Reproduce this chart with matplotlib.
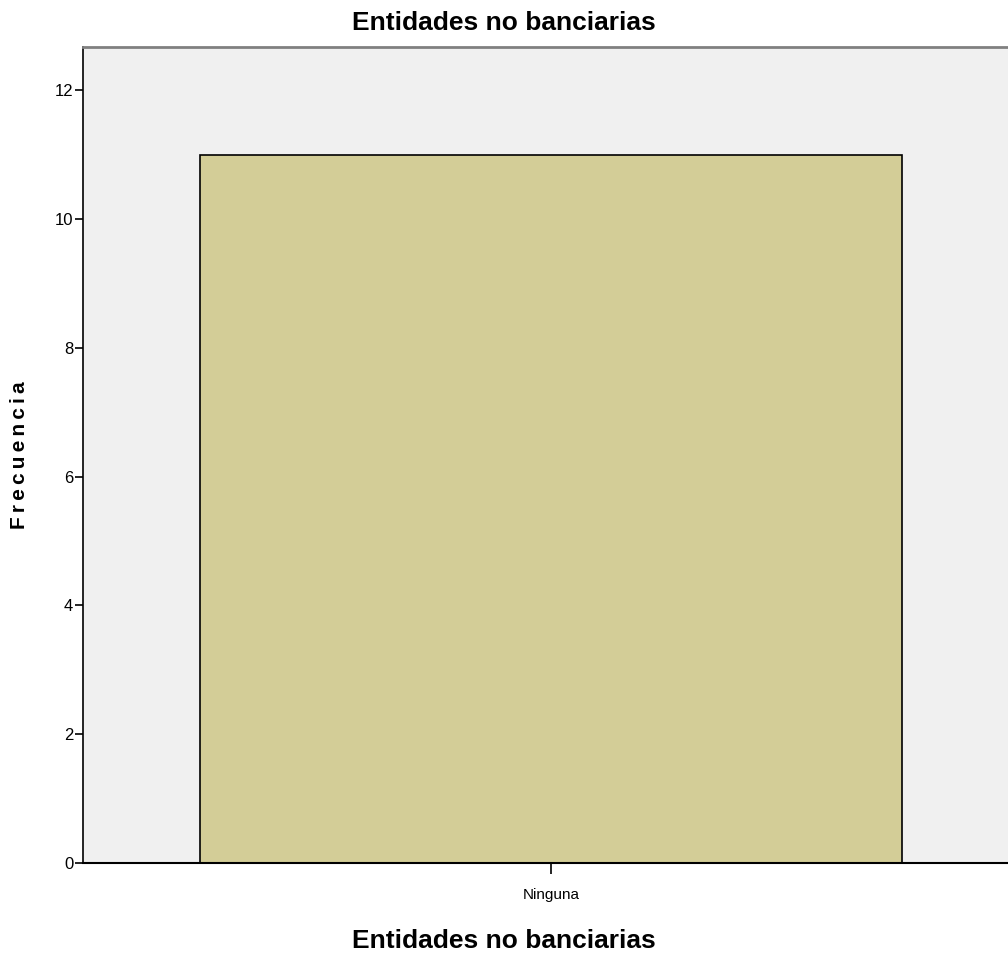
import matplotlib
matplotlib.use('Agg')
import matplotlib.pyplot as plt

categories = ['Ninguna']
counts = [11]

plt.rcParams['font.family'] = ['Liberation Sans', 'DejaVu Sans']

fig = plt.figure(figsize=(10.08, 9.55), dpi=100)
ax = fig.add_axes([83/1008, 92/955, 936/1008, 816/955])
ax.set_facecolor('#F0F0F0')

ax.bar(range(len(categories)), counts, width=0.75, color='#D3CD97', edgecolor='black', linewidth=1.2)
ax.set_xlim(-0.5, 0.5)
ax.set_ylim(0, 12.67)
ax.set_yticks([0, 2, 4, 6, 8, 10, 12])
ax.set_xticks(range(len(categories)))
ax.set_xticklabels(categories, fontsize=11)
ax.tick_params(axis='y', labelsize=12, length=6, width=1.2, pad=1)
ax.tick_params(axis='x', length=8, width=1.2, pad=10)

ax.spines['top'].set_color('#808080')
ax.spines['top'].set_linewidth(2)
ax.spines['left'].set_linewidth(1.2)
ax.spines['bottom'].set_linewidth(1.5)
ax.spines['right'].set_visible(False)

fig.text(0.5, 0.976, 'Entidades no banciarias', ha='center', va='center', fontsize=19, fontweight='bold')
fig.text(0.5, 0.015, 'Entidades no banciarias', ha='center', va='center', fontsize=19, fontweight='bold')
ax.text(-0.068, 0.5, '\u2009'.join('Frecuencia'), transform=ax.transAxes, ha='center', va='center',
        rotation=90, fontsize=15, fontweight='bold')

plt.savefig('out.png', dpi=100)
